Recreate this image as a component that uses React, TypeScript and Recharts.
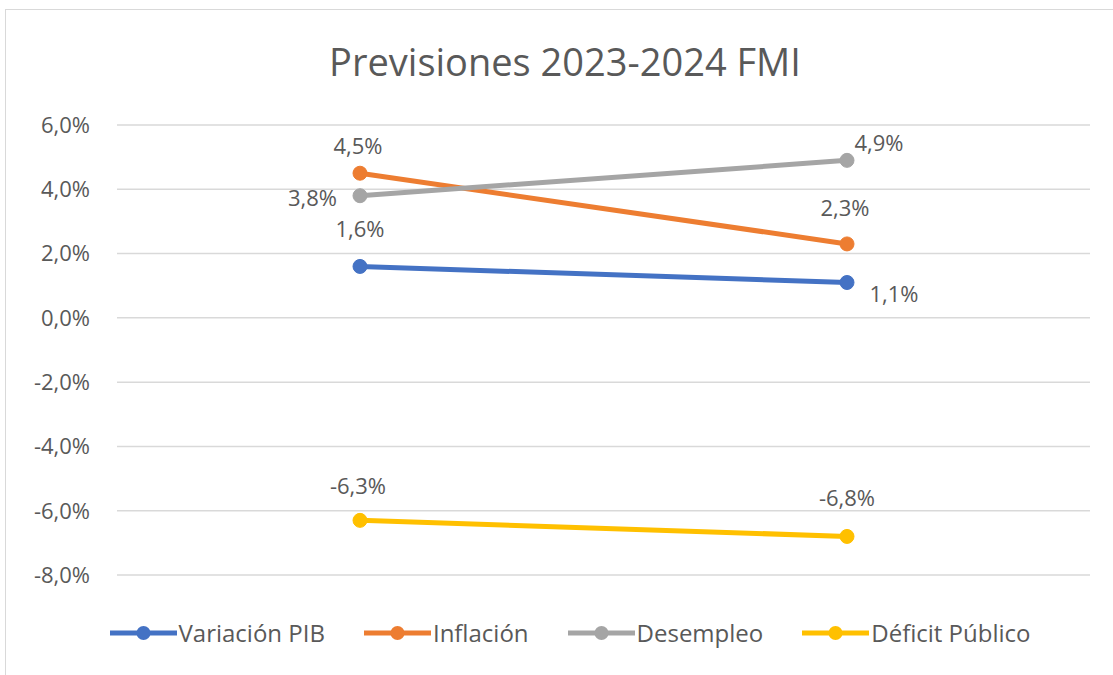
import { LineChart, Line, XAxis, YAxis, CartesianGrid, Legend } from 'recharts';

const years = ['2023', '2024'];
const variacionPIB = [1.6, 1.1];
const inflacion = [4.5, 2.3];
const desempleo = [3.8, 4.9];
const deficitPublico = [-6.3, -6.8];
const yTicks = [6, 4, 2, 0, -2, -4, -6, -8];

const data = years.map((year, i) => ({
    year,
    pib: variacionPIB[i],
    inflacion: inflacion[i],
    desempleo: desempleo[i],
    deficit: deficitPublico[i],
}));

const FONT = '"Open Sans", sans-serif';
const TEXT = '#595959';

const fmt = (v: number) => `${v.toFixed(1).replace('.', ',')}%`;

// label offsets per point, relative to the marker
type Off = { dx: number; dy: number; anchor?: 'start' | 'middle' | 'end' };
const series = [
    { key: 'pib', name: 'Variación PIB', color: '#4472C4', offs: [{ dx: 0, dy: -38 }, { dx: 47, dy: 10 }] as Off[] },
    { key: 'inflacion', name: 'Inflación', color: '#ED7D31', offs: [{ dx: -2, dy: -28 }, { dx: -2, dy: -37 }] as Off[] },
    { key: 'desempleo', name: 'Desempleo', color: '#A5A5A5', offs: [{ dx: -23, dy: 1, anchor: 'end' }, { dx: 32, dy: -18 }] as Off[] },
    { key: 'deficit', name: 'Déficit Público', color: '#FFC000', offs: [{ dx: -2, dy: -35 }, { dx: 0, dy: -39 }] as Off[] },
];

const makeLabel = (offs: Off[]) => (props: any) => {
    const { x, y, value, index } = props;
    const o = offs[index];
    if (!o) return null;
    return (
        <text
            x={x + o.dx}
            y={y + o.dy}
            textAnchor={o.anchor ?? 'middle'}
            dominantBaseline="central"
            fill={TEXT}
            fontSize={22}
            fontFamily={FONT}
        >
            {fmt(value)}
        </text>
    );
};

const renderLegend = () => (
    <div style={{ display: 'flex', justifyContent: 'center', alignItems: 'center', fontFamily: FONT, fontSize: 24, color: TEXT }}>
        {series.map((s, i) => (
            <div key={s.key} style={{ display: 'flex', alignItems: 'center', marginRight: i < series.length - 1 ? 39 : 0 }}>
                <svg width={67} height={18}>
                    <line x1={0} x2={67} y1={9} y2={9} stroke={s.color} strokeWidth={5} />
                    <circle cx={33.5} cy={9} r={7} fill={s.color} />
                </svg>
                <span style={{ marginLeft: 2 }}>{s.name}</span>
            </div>
        ))}
    </div>
);

export default function App() {
    return (
        <div style={{ position: 'absolute', left: 0, top: 0, width: 1113, height: 675, background: '#fff', overflow: 'hidden' }}>
            <div style={{ position: 'absolute', left: 5, top: 9, width: 1120, height: 700, border: '1.5px solid #D9D9D9' }} />
            <div
                style={{
                    position: 'absolute',
                    left: 0,
                    width: 1130,
                    top: 35,
                    textAlign: 'center',
                    fontFamily: FONT,
                    fontSize: 38,
                    color: TEXT,
                }}
            >
                Previsiones 2023-2024 FMI
            </div>
            <LineChart
                width={1113}
                height={675}
                data={data}
                margin={{ top: 125, right: 23, left: 17, bottom: 100 }}
                style={{ position: 'absolute', left: 0, top: 0 }}
            >
                <CartesianGrid vertical={false} stroke="#D9D9D9" strokeWidth={1.5} />
                <XAxis dataKey="year" hide padding={{ left: 243, right: 243 }} />
                <YAxis
                    width={100}
                    domain={[-8, 6]}
                    ticks={yTicks}
                    tickFormatter={fmt}
                    axisLine={false}
                    tickLine={false}
                    tickSize={0}
                    tickMargin={27}
                    tick={{ fill: TEXT, fontSize: 22, fontFamily: FONT }}
                />
                <Legend
                    content={renderLegend}
                    layout="horizontal"
                    verticalAlign="middle"
                    align="center"
                    wrapperStyle={{ top: 616, left: 0, width: 1140 }}
                />
                {series.map((s) => (
                    <Line
                        key={s.key}
                        dataKey={s.key}
                        name={s.name}
                        stroke={s.color}
                        strokeWidth={5}
                        dot={{ r: 7, fill: s.color, stroke: s.color, strokeWidth: 1 }}
                        activeDot={false}
                        label={makeLabel(s.offs)}
                        isAnimationActive={false}
                    />
                ))}
            </LineChart>
        </div>
    );
}
